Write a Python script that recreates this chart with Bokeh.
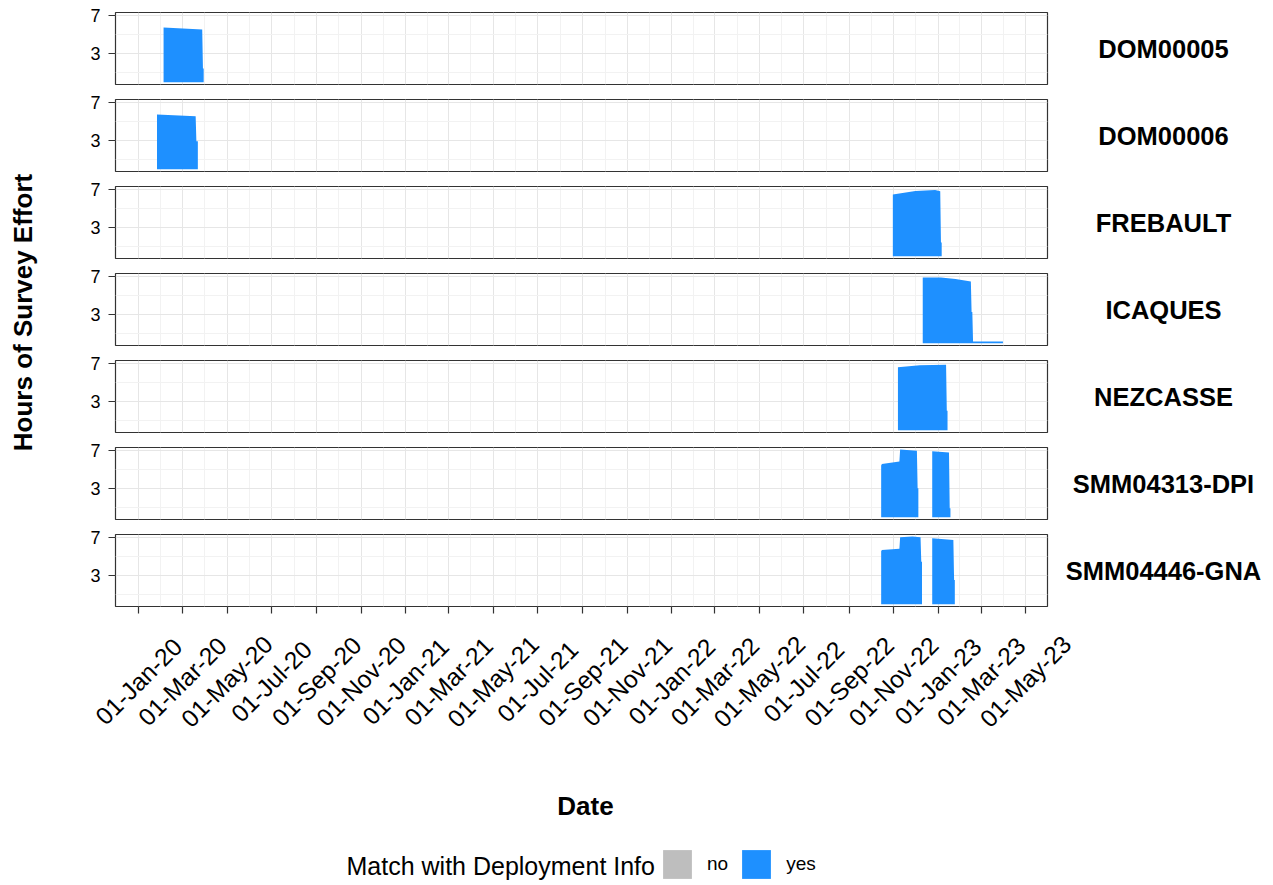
import numpy as np
from datetime import datetime
from bokeh.plotting import figure
from bokeh.models import (Range1d, FixedTicker, Label, LabelSet, ColumnDataSource,
                          Legend, LegendItem, CustomJSTickFormatter)
from bokeh.layouts import column, row
from bokeh.embed import file_html
from bokeh.resources import INLINE
from bokeh.core.properties import value

# ---------------- data ----------------
site_names = ["DOM00005", "DOM00006", "FREBAULT", "ICAQUES", "NEZCASSE",
              "SMM04313-DPI", "SMM04446-GNA"]

dom00005_dates = ["2020-02-04", "2020-03-28", "2020-03-29", "2020-03-30"]
dom00005_hours = [5.75, 5.55, 1.45, 1.45]

dom00006_dates = ["2020-01-26", "2020-03-19", "2020-03-20", "2020-03-22"]
dom00006_hours = [5.75, 5.57, 2.95, 2.95]

frebault_dates = ["2022-10-31", "2022-12-01", "2022-12-28", "2023-01-04", "2023-01-05", "2023-01-06"]
frebault_hours = [6.48, 6.85, 6.95, 6.82, 1.46, 1.46]

icaques_dates = ["2022-12-11", "2023-01-05", "2023-01-25", "2023-02-15", "2023-02-16",
                 "2023-02-17", "2023-02-18", "2023-03-31"]
icaques_hours = [6.92, 6.90, 6.75, 6.50, 3.30, 3.30, 0.20, 0.20]

nezcasse_dates = ["2022-11-07", "2022-12-07", "2023-01-12", "2023-01-13", "2023-01-14"]
nezcasse_hours = [6.62, 6.82, 6.88, 2.05, 2.05]

smm04313_a_dates = ["2022-10-15", "2022-10-16", "2022-11-09", "2022-11-10", "2022-12-03",
                    "2022-12-04", "2022-12-05"]
smm04313_a_hours = [5.43, 5.61, 5.85, 7.11, 7.00, 3.04, 3.04]
smm04313_b_dates = ["2022-12-24", "2023-01-16", "2023-01-17", "2023-01-18"]
smm04313_b_hours = [6.93, 6.80, 0.94, 0.94]

smm04446_a_dates = ["2022-10-15", "2022-10-16", "2022-11-09", "2022-11-10", "2022-11-27",
                    "2022-12-08", "2022-12-09", "2022-12-10"]
smm04446_a_hours = [5.56, 5.70, 5.84, 7.04, 7.11, 7.04, 4.48, 4.48]
smm04446_b_dates = ["2022-12-24", "2023-01-22", "2023-01-23", "2023-01-24"]
smm04446_b_hours = [6.93, 6.76, 2.56, 2.56]

site_segments = {
    "DOM00005": [(dom00005_dates, dom00005_hours)],
    "DOM00006": [(dom00006_dates, dom00006_hours)],
    "FREBAULT": [(frebault_dates, frebault_hours)],
    "ICAQUES": [(icaques_dates, icaques_hours)],
    "NEZCASSE": [(nezcasse_dates, nezcasse_hours)],
    "SMM04313-DPI": [(smm04313_a_dates, smm04313_a_hours), (smm04313_b_dates, smm04313_b_hours)],
    "SMM04446-GNA": [(smm04446_a_dates, smm04446_a_hours), (smm04446_b_dates, smm04446_b_hours)],
}

tick_dates = ["2020-01-01", "2020-03-01", "2020-05-01", "2020-07-01", "2020-09-01", "2020-11-01",
              "2021-01-01", "2021-03-01", "2021-05-01", "2021-07-01", "2021-09-01", "2021-11-01",
              "2022-01-01", "2022-03-01", "2022-05-01", "2022-07-01", "2022-09-01", "2022-11-01",
              "2023-01-01", "2023-03-01", "2023-05-01"]
tick_labels = ["01-Jan-20", "01-Mar-20", "01-May-20", "01-Jul-20", "01-Sep-20", "01-Nov-20",
               "01-Jan-21", "01-Mar-21", "01-May-21", "01-Jul-21", "01-Sep-21", "01-Nov-21",
               "01-Jan-22", "01-Mar-22", "01-May-22", "01-Jul-22", "01-Sep-22", "01-Nov-22",
               "01-Jan-23", "01-Mar-23", "01-May-23"]
y_ticks = [3, 7]
y_minor = [1, 5]
x_title = "Date"
y_title = "Hours of Survey Effort"
legend_title = "Match with Deployment Info"
legend_labels = ["no", "yes"]

# ---------------- styles / geometry ----------------
FONT = "Liberation Sans"
YES_COLOR = "#1E90FF"
NO_COLOR = "#BEBEBE"
BORDER = "#333333"
GRID_MAJOR = "#E6E6E6"
GRID_MINOR = "#F2F2F2"

TOTAL_W = 1265
TOTAL_H = 884
YT_W = 44                 # width of the y-title strip
FRAME_LEFT = 115          # window x of the panel frames
FRAME_W = 932
P_LEFT = FRAME_LEFT - YT_W
P_RIGHT = 2
P_W = P_LEFT + FRAME_W + P_RIGHT
S_W = TOTAL_W - YT_W - P_W   # facet strip width
STRIP_CX = 1163 - (YT_W + P_W)
FRAME_H = 72


def to_dt(s):
    return datetime.strptime(s, "%Y-%m-%d")


def ms(d):
    return (d - datetime(1970, 1, 1)).total_seconds() * 1000.0


tick_ms = [ms(to_dt(d)) for d in tick_dates]
minor_ms = [(a + b) / 2.0 for a, b in zip(tick_ms[:-1], tick_ms[1:])]

X0 = datetime(2019, 11, 30, 2)
X1 = datetime(2023, 5, 31, 2)
x_range = Range1d(X0, X1)


def blank_fig(w, h, xr=None, yr=None):
    f = figure(width=w, height=h, output_backend="svg", toolbar_location=None,
               x_axis_location=None, y_axis_location=None,
               x_range=xr if xr is not None else Range1d(0, 1),
               y_range=yr if yr is not None else Range1d(0, 1),
               min_border_left=0, min_border_right=0, min_border_top=0, min_border_bottom=0)
    f.outline_line_color = None
    f.grid.visible = False
    f.background_fill_color = "white"
    f.border_fill_color = "white"
    return f


n = len(site_names)
rows = []
heights = []
for i, site in enumerate(site_names):
    first = (i == 0)
    last = (i == n - 1)
    top_b = 12 if first else 7
    bot_b = 10 if last else 8
    h = top_b + FRAME_H + bot_b
    heights.append(h)
    p = figure(width=P_W, height=h, x_axis_type="datetime", x_range=x_range,
               y_range=Range1d(-0.23, 7.33), output_backend="svg", toolbar_location=None,
               min_border_left=P_LEFT, min_border_right=P_RIGHT, min_border_top=top_b,
               min_border_bottom=bot_b)
    p.background_fill_color = "white"
    p.border_fill_color = "white"
    p.outline_line_color = BORDER
    p.outline_line_width = 1.2

    xticker = FixedTicker(ticks=tick_ms, minor_ticks=minor_ms)
    yticker = FixedTicker(ticks=y_ticks, minor_ticks=y_minor)
    p.xaxis.ticker = xticker
    p.yaxis.ticker = yticker
    p.xgrid.ticker = xticker
    p.ygrid.ticker = yticker
    for g in (p.xgrid, p.ygrid):
        g.grid_line_color = GRID_MAJOR
        g.grid_line_width = 1
        g.minor_grid_line_color = GRID_MINOR
        g.minor_grid_line_width = 1

    ax = p.yaxis[0]
    ax.axis_line_color = None
    ax.major_tick_in = 0
    ax.major_tick_out = 7
    ax.major_tick_line_color = BORDER
    ax.major_tick_line_width = 1.2
    ax.minor_tick_line_color = None
    ax.major_label_text_font = FONT
    ax.major_label_text_font_size = "18px"
    ax.major_label_text_color = "black"
    ax.major_label_standoff = 8

    xa = p.xaxis[0]
    if last:
        xa.axis_line_color = None
        xa.major_tick_in = 0
        xa.major_tick_out = 7
        xa.major_tick_line_color = BORDER
        xa.major_tick_line_width = 1.2
        xa.minor_tick_line_color = None
        xa.formatter = CustomJSTickFormatter(code="return ''")
        xa.major_label_standoff = 0
        xa.major_label_text_font_size = "1px"
    else:
        xa.visible = False

    for dates, hours in site_segments[site]:
        src = ColumnDataSource(dict(x=[to_dt(d) for d in dates], y2=hours, y1=[0.0] * len(hours)))
        p.varea(x="x", y1="y1", y2="y2", source=src, fill_color=YES_COLOR, fill_alpha=1.0)

    # facet strip (horizontal label right of the panel); its frame is aligned with the panel frame
    s = blank_fig(S_W, h)
    s.add_layout(Label(x=STRIP_CX, y=FRAME_H / 2.0, x_units="screen", y_units="screen",
                       text=site, text_align="center", text_baseline="middle",
                       text_font=FONT, text_font_size="25.5px", text_font_style="bold",
                       text_color="black"))
    rows.append(row(p, s, spacing=0))

panels_h = sum(heights)

# y-axis title strip
yt = blank_fig(YT_W, panels_h)
yt.add_layout(Label(x=YT_W / 2.0, y=panels_h - 312, x_units="screen", y_units="screen",
                    text=y_title, angle=np.pi / 2, text_align="center", text_baseline="middle",
                    text_font=FONT, text_font_size="26px", text_font_style="bold",
                    text_color="black"))

# bottom area: rotated tick labels, x title, legend (same x scale as the panels)
BH = TOTAL_H - panels_h
px_per_ms = FRAME_W / (ms(X1) - ms(X0))
b_start = ms(X0) - FRAME_LEFT / px_per_ms
b_end = ms(X1) + (TOTAL_W - (FRAME_LEFT + FRAME_W)) / px_per_ms
bf = blank_fig(TOTAL_W, BH, xr=Range1d(b_start, b_end), yr=Range1d(0, BH))

tsrc = ColumnDataSource(dict(x=[ms(to_dt(d)) for d in tick_dates],
                             y=[TOTAL_H - 681] * len(tick_dates), text=tick_labels))
bf.add_layout(LabelSet(x="x", y="y", text="text", source=tsrc, y_units="screen",
                       angle=np.pi / 4, text_align="center", text_baseline="middle",
                       text_font=value(FONT), text_font_size="24.5px", text_color="black"))

bf.add_layout(Label(x=FRAME_LEFT + FRAME_W / 2.0 + 4, y=TOTAL_H - 805, x_units="screen",
                    y_units="screen", text=x_title, text_align="center", text_baseline="middle",
                    text_font=FONT, text_font_size="26px", text_font_style="bold",
                    text_color="black"))

bf.add_layout(Label(x=346, y=TOTAL_H - 865, x_units="screen", y_units="screen",
                    text=legend_title, text_align="left", text_baseline="middle",
                    text_font=FONT, text_font_size="25px", text_color="black"))

# legend keys (zero-height proxies carrying the fill colours)
proxy_x = [b_start, b_end]
no_r = bf.varea(x=proxy_x, y1=[0, 0], y2=[0, 0], fill_color=NO_COLOR)
yes_r = bf.varea(x=proxy_x, y1=[0, 0], y2=[0, 0], fill_color=YES_COLOR)
legend = Legend(items=[LegendItem(label=legend_labels[0], renderers=[no_r]),
                       LegendItem(label=legend_labels[1], renderers=[yes_r])],
                orientation="horizontal", location=(659, 2),
                label_text_font=FONT, label_text_font_size="19px", label_text_color="black",
                glyph_width=36, glyph_height=36, label_height=36, label_standoff=12,
                spacing=10, padding=0, margin=0, border_line_color=None,
                background_fill_alpha=0)
bf.add_layout(legend)

layout = column(row(yt, column(*rows, spacing=0), spacing=0), bf, spacing=0)
open("out.html", "w").write(file_html(layout, INLINE))
